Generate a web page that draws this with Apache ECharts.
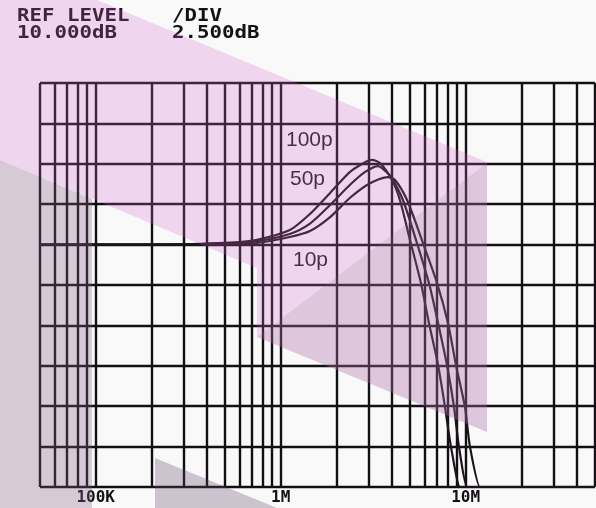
<!DOCTYPE html>
<html>
<head>
<meta charset="utf-8">
<script src="https://cdn.jsdelivr.net/npm/echarts@6/dist/echarts.min.js"></script>
<style>
html,body{margin:0;padding:0;background:#f9f9f9;}
#chart{width:596px;height:508px;}
</style>
</head>
<body>
<div id="chart"></div>
<script>
// ---- data ----
const headerTexts = ['REF LEVEL', '10.000dB', '/DIV', '2.500dB'];
const seriesNames = ['100p', '50p', '10p'];
const xTickLabels = { 100000: '100K', 1000000: '1M', 10000000: '10M' };
const freqGridLines = [5e4, 6e4, 7e4, 8e4, 9e4,
  1e5, 2e5, 3e5, 4e5, 5e5, 6e5, 7e5, 8e5, 9e5,
  1e6, 2e6, 3e6, 4e6, 5e6, 6e6, 7e6, 8e6, 9e6,
  1e7, 2e7, 3e7, 4e7, 5e7];

const freq100p = [5e4, 2e5, 3.66e5, 5.32e5, 7.45e5, 1.12e6, 1.44e6, 1.85e6, 2.37e6, 2.86e6, 3.12e6, 3.44e6, 4.0e6, 4.41e6, 5.0e6, 5.73e6, 6.33e6, 7.09e6, 7.73e6, 8.33e6, 9.32e6, 9.5e6, 5e7];
const db100p   = [0, 0, 0.05, 0.12, 0.3, 0.9, 1.9, 3.2, 4.5, 5.1, 5.24, 5.05, 4.0, 2.76, 0.28, -2.38, -4.85, -7.45, -10.05, -12.52, -15, -15, -15];

const freq50p = [5e4, 2e5, 3.66e5, 5.32e5, 7.45e5, 1.12e6, 1.44e6, 1.85e6, 2.37e6, 2.86e6, 3.36e6, 3.8e6, 4.0e6, 4.58e6, 5.39e6, 6.33e6, 7.09e6, 7.92e6, 8.65e6, 9.2e6, 1.016e7, 1.035e7, 5e7];
const db50p   = [0, 0, 0.03, 0.08, 0.22, 0.66, 1.3, 2.45, 3.7, 4.5, 4.86, 4.4, 4.1, 2.76, 0.28, -2.38, -4.85, -7.45, -10.05, -12.52, -15, -15, -15];

const freq10p = [5e4, 2e5, 3.66e5, 5.32e5, 7.45e5, 1.12e6, 1.44e6, 1.85e6, 2.37e6, 3.04e6, 3.8e6, 4.15e6, 4.82e6, 5.8e6, 7.0e6, 8.02e6, 8.86e6, 9.91e6, 1.055e7, 1.195e7, 1.22e7, 5e7];
const db10p   = [0, 0, 0.02, 0.05, 0.1, 0.47, 0.84, 1.7, 2.9, 3.8, 4.18, 4.0, 2.76, 0.28, -2.38, -4.85, -7.45, -10.05, -12.52, -15, -15, -15];

const yMin = -15, yMax = 10, yStep = 2.5;
const xMin = 5e4, xMax = 5e7;

// ---- build ----
function pairs(f, d) { return f.map((v, i) => [v, d[i]]); }
const curveData = [pairs(freq100p, db100p), pairs(freq50p, db50p), pairs(freq10p, db10p)];

const lineColor = '#121012';
const chart = echarts.init(document.getElementById('chart'), null, { renderer: 'canvas' });

const series = curveData.map((d, i) => ({
  name: seriesNames[i],
  type: 'line',
  data: d,
  showSymbol: false,
  smooth: 0.25,
  clip: false,
  lineStyle: { color: '#1c141c', width: 2.2 },
  z: 5,
  markLine: i === 0 ? {
    silent: true,
    symbol: 'none',
    label: { show: false },
    lineStyle: { color: lineColor, width: 2.4, type: 'solid' },
    data: freqGridLines.map(f => ({ xAxis: f })),
    z: 3
  } : undefined
}));

const mono = '"DejaVu Sans Mono", "Liberation Mono", monospace';
const sans = '"Liberation Sans", Arial, sans-serif';

function hdr(text, x, y) {
  return { type: 'text', x: x, y: y, scaleX: 1.22, z: 50, silent: true,
    style: { text: text, x: 0, y: 0, fill: '#141014', font: 'bold 17px ' + mono, verticalAlign: 'top' } };
}
function lbl(text, x, y) {
  return { type: 'text', x: x, y: y, z: 50, silent: true,
    style: { text: text, x: 0, y: 0, fill: '#221a22', font: '21px ' + sans, verticalAlign: 'top' } };
}

const graphic = [
  hdr(headerTexts[0], 17, 8),
  hdr(headerTexts[1], 17, 25),
  hdr(headerTexts[2], 172, 8),
  hdr(headerTexts[3], 172, 25),
  lbl(seriesNames[0], 286, 130),
  lbl(seriesNames[1], 290, 169),
  lbl(seriesNames[2], 293, 250),
  // decorative overlays from the scanned page
  { type: 'polygon', z: 100, silent: true,
    shape: { points: [[0,0],[97,0],[487,162],[487,432],[257,337],[257,268],[0,160]] },
    style: { fill: 'rgba(207,99,199,0.24)' } },
  { type: 'polygon', z: 101, silent: true,
    shape: { points: [[487,163],[257,337],[487,432]] },
    style: { fill: 'rgba(130,120,130,0.15)' } },
  { type: 'polygon', z: 100, silent: true,
    shape: { points: [[0,160],[92,199],[92,508],[0,508]] },
    style: { fill: 'rgba(128,92,132,0.3)' } },
  { type: 'polygon', z: 100, silent: true,
    shape: { points: [[155,458],[277,508],[155,508]] },
    style: { fill: 'rgba(95,68,102,0.3)' } }
];

chart.setOption({
  backgroundColor: '#f9f9f9',
  animation: false,
  grid: { left: 40, top: 83, width: 555, height: 404, containLabel: false },
  xAxis: {
    type: 'log',
    logBase: 10,
    min: xMin,
    max: xMax,
    axisLine: { show: false },
    axisTick: { show: false },
    splitLine: { show: false },
    axisLabel: {
      show: true,
      margin: 3,
      color: '#141014',
      fontFamily: mono,
      fontWeight: 'bold',
      fontSize: 16,
      showMinLabel: false,
      showMaxLabel: false,
      formatter: function (v) {
        const k = Math.round(v);
        return xTickLabels[k] || '';
      }
    }
  },
  yAxis: {
    type: 'value',
    min: yMin,
    max: yMax,
    interval: yStep,
    axisLine: { show: false },
    axisTick: { show: false },
    axisLabel: { show: false },
    splitLine: { show: true, lineStyle: { color: lineColor, width: 2.4 } }
  },
  series: series,
  graphic: graphic
});
</script>
</body>
</html>
